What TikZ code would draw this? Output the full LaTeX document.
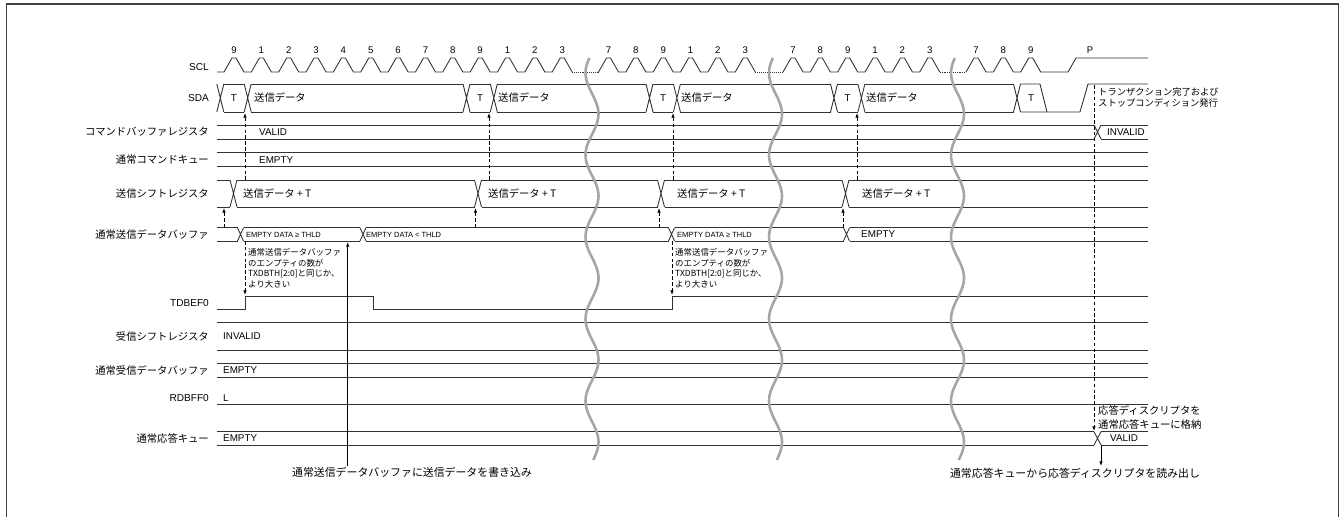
\documentclass[tikz,border=0pt]{standalone}
\usepackage{fontspec}
\setmainfont{Liberation Sans}
\newfontfamily\jp{Noto Sans CJK JP}
\usetikzlibrary{arrows.meta}
\begin{document}
\begin{tikzpicture}[x=0.03cm,y=-0.03cm,
  sig/.style={line width=0.75pt, draw=black!80},
  jl/.style={anchor=east, inner sep=0pt, font=\fontsize{8.8}{10}\selectfont\jp},
  el/.style={anchor=east, inner sep=0pt, font=\fontsize{8.6}{10}\selectfont},
  val/.style={anchor=west, inner sep=0pt, font=\fontsize{8.4}{10}\selectfont},
  jval/.style={anchor=west, inner sep=0pt, font=\fontsize{8.8}{10}\selectfont\jp},
  smallv/.style={anchor=west, inner sep=0pt, font=\fontsize{6.4}{8}\selectfont},
  num/.style={inner sep=0pt, font=\fontsize{8.2}{10}\selectfont},
  note/.style={anchor=west, inner sep=0pt, font=\fontsize{7.2}{9}\selectfont\jp},
  snote/.style={anchor=west, inner sep=0pt, font=\fontsize{7.9}{9}\selectfont\jp},
  bnote/.style={inner sep=0pt, font=\fontsize{9.3}{11}\selectfont\jp},
  brk/.style={line width=2.2pt, draw=black!35},
  dsh/.style={line width=0.7pt, dash pattern=on 3pt off 2pt, -{Latex[length=4pt,width=3pt]}},
  arr/.style={line width=0.7pt, -{Latex[length=4pt,width=3pt]}},
  frm/.style={line width=1.1pt, draw=black!75}]
\useasboundingbox (0,0) rectangle (1343,517);
% frame
\draw[frm] (6.7,517) -- (6.7,4) -- (1338.5,4) -- (1338.5,517);

% ---------- labels ----------
\node[el] (lscl) at (209,67) {SCL};
\node[el] (lsda) at (209,98) {SDA};
\node[jl] (lcbr) at (209,132) {コマンドバッファレジスタ};
\node[jl] (lcq) at (209,160) {通常コマンドキュー};
\node[jl] (ltsr) at (209,193.5) {送信シフトレジスタ};
\node[jl] (ltdb) at (209,234.5) {通常送信データバッファ};
\node[el] (ltdbef) at (209,303) {TDBEF0};
\node[jl] (lrsr) at (209,336.5) {受信シフトレジスタ};
\node[jl] (lrdb) at (209,370.5) {通常受信データバッファ};
\node[el] (lrdbff) at (209,398) {RDBFF0};
\node[jl] (lrq) at (209,438.5) {通常応答キュー};

% ---------- SCL ----------
\draw[sig] (217,72) foreach \c in {234,261.35,288.7,316.05,343.4,370.75,398.1,425.45,452.8,480.15,507.5,534.85,562.2} { -- ({\c-10},72) -- ({\c-2},58) -- ({\c+2},58) -- ({\c+10},72) };
\draw[sig] (598.5,72) foreach \c in {608.5,635.85,663.2,690.55,717.9,745.25} { -- ({\c-10},72) -- ({\c-2},58) -- ({\c+2},58) -- ({\c+10},72) };
\draw[sig] (783,72) foreach \c in {793,820.35,847.7,875.05,902.4,929.75} { -- ({\c-10},72) -- ({\c-2},58) -- ({\c+2},58) -- ({\c+10},72) };
\draw[sig] (966,72) foreach \c in {976,1003.35,1030.7} { -- ({\c-10},72) -- ({\c-2},58) -- ({\c+2},58) -- ({\c+10},72) } -- (1068,72) -- (1076,58) -- (1148,58);
\foreach \a/\b in {572.2/598.5,755.25/783,939.75/966}
  \draw[sig, dash pattern=on 0.8pt off 0.8pt] (\a,72) -- (\b,72);
\foreach \c/\t [count=\i] in {234/9,261.35/1,288.7/2,316.05/3,343.4/4,370.75/5,398.1/6,425.45/7,452.8/8,480.15/9,507.5/1,534.85/2,562.2/3,608.5/7,635.85/8,663.2/9,690.55/1,717.9/2,745.25/3,793/7,820.35/8,847.7/9,875.05/1,902.4/2,929.75/3,976/7,1003.35/8,1030.7/9,1090/P}
  \node[num] (na\i) at (\c,50) {\t};

% ---------- SDA ----------
\foreach \x in {220.3,247.7,466.5,493.8,649.5,676.9,834,861.4,1017}
  \draw[sig] ({\x-3.5},84) -- ({\x+3.5},112) ({\x-3.5},112) -- ({\x+3.5},84);
\foreach \a/\b in {223.8/244.2,251.2/463,470/490.3,497.3/646,653/673.4,680.4/830.5,837.5/857.9,864.9/1013.5}
  \draw[sig] (\a,84) -- (\b,84) (\a,112) -- (\b,112);
\draw[sig] (1020.5,84) -- (1040,84) -- (1047,112);
\draw[sig] (1020.5,112) -- (1080,112) -- (1088,84) -- (1148,84);
\foreach \x [count=\i] in {234,480.15,663.2,847.7,1031}
  \node[val, anchor=center] (sdat\i) at (\x,98) {T};
\foreach \x [count=\i] in {254,498,681,866}
  \node[jval] (sdad\i) at (\x,98) {送信データ};

% ---------- command buffer register ----------
\draw[sig] (217,125) -- (1094,125) (217,139) -- (1094,139);
\draw[sig] (1094,125) -- (1101,139) (1094,139) -- (1101,125);
\draw[sig] (1101,125) -- (1148,125) (1101,139) -- (1148,139);
\node[val] (cbv) at (259,132) {VALID};
\node[val] (cbi) at (1107,132) {INVALID};

% ---------- command queue ----------
\draw[sig] (217,152.7) -- (1148,152.7) (217,166.7) -- (1148,166.7);
\node[val] (cqe) at (259,160) {EMPTY};

% ---------- TX shift register ----------
\foreach \x in {233.5,478,661,845.5}
  \draw[sig] ({\x-3.5},180) -- ({\x+3.5},207) ({\x-3.5},207) -- ({\x+3.5},180);
\foreach \a/\b in {217/230,237/474.5,481.5/657.5,664.5/842,849/1148}
  \draw[sig] (\a,180) -- (\b,180) (\a,207) -- (\b,207);
\foreach \x [count=\i] in {243,488,677,862}
  \node[jval] (tsr\i) at (\x,193.5) {送信データ + T};

% ---------- TX data buffer ----------
\foreach \x in {240.5,363,671.5,846.5}
  \draw[sig] ({\x-3},227.7) -- ({\x+3},241) ({\x-3},241) -- ({\x+3},227.7);
\foreach \a/\b in {217/237.5,243.5/360,366/668.5,674.5/843.5,849.5/1148}
  \draw[sig] (\a,227.7) -- (\b,227.7) (\a,241) -- (\b,241);
\node[smallv] (tdb1) at (246,234.5) {EMPTY DATA ≥ THLD};
\node[smallv] (tdb2) at (366,234.5) {EMPTY DATA < THLD};
\node[smallv] (tdb3) at (677,234.5) {EMPTY DATA ≥ THLD};
\node[val] (tdb4) at (861,234.5) {EMPTY};

% ---------- TDBEF0 ----------
\draw[sig] (217,309) -- (245,309) -- (245,296) -- (373,296) -- (373,309) -- (672,309) -- (672,296) -- (1148,296);

% ---------- RX rows ----------
\draw[sig] (217,322.7) -- (1148,322.7) (217,350) -- (1148,350);
\node[val] (rsri) at (223,336.5) {INVALID};
\draw[sig] (217,363.3) -- (1148,363.3) (217,377.3) -- (1148,377.3);
\node[val] (rdbe) at (223,370.5) {EMPTY};
\draw[sig] (217,404.3) -- (1148,404.3);
\node[val] (rdbffl) at (223,398) {L};
\draw[sig] (217,431.7) -- (1094,431.7) (217,445) -- (1094,445);
\draw[sig] (1094,431.7) -- (1101,445) (1094,445) -- (1101,431.7);
\draw[sig] (1101,431.7) -- (1148,431.7) (1101,445) -- (1148,445);
\node[val] (rqe) at (223,438.5) {EMPTY};
\node[val] (rqv) at (1110,438.5) {VALID};

% ---------- notes ----------
\foreach \x/\k in {248/a,675/b} {
  \node[note] (n\k1) at (\x,252.7) {通常送信データバッファ};
  \node[note] (n\k2) at (\x,263.3) {のエンプティの数が};
  \node[note] (n\k3) at (\x,274) {TXDBTH[2:0]と同じか、};
  \node[note] (n\k4) at (\x,284.7) {より大きい};
}
\node[snote] (stp1) at (1098,92) {トランザクション完了および};
\node[snote] (stp2) at (1098,103) {ストップコンディション発行};
\node[jval] (rsp1) at (1098,410.5) {応答ディスクリプタを};
\node[jval] (rsp2) at (1098,425) {通常応答キューに格納};
\node[bnote] (bw) at (412,472) {通常送信データバッファに送信データを書き込み};
\node[bnote] (br) at (1075,473) {通常応答キューから応答ディスクリプタを読み出し};

% ---------- arrows ----------
\foreach \x [count=\i] in {245,489,673,857} {
  \coordinate (ua\i) at (\x,180); \coordinate (ub\i) at (\x,113);
  \draw[dsh] (ua\i) -- (ub\i);
}
\foreach \x [count=\i] in {224,475.5,659,843} {
  \coordinate (va\i) at (\x,227.7); \coordinate (vb\i) at (\x,208);
  \draw[dsh] (va\i) -- (vb\i);
}
\foreach \x [count=\i] in {245,672} {
  \coordinate (wa\i) at (\x,241); \coordinate (wb\i) at (\x,295);
  \draw[dsh] (wa\i) -- (wb\i);
}
\coordinate (pa) at (1094,85); \coordinate (pb) at (1094,431);
\draw[dsh] (pa) -- (pb);
\coordinate (wra) at (347.7,466); \coordinate (wrb) at (347.7,242);
\draw[arr] (wra) -- (wrb);
\coordinate (rda) at (1101,445); \coordinate (rdb) at (1101,466);
\draw[arr] (rda) -- (rdb);

% ---------- breaks ----------
\foreach \cx in {592,775.5,957.5}
  \draw[brk] plot[domain=58:460,samples=150,variable=\t] ({\cx-6.5*cos(4.3902*(\t-237))},{\t});
\end{tikzpicture}
\end{document}
